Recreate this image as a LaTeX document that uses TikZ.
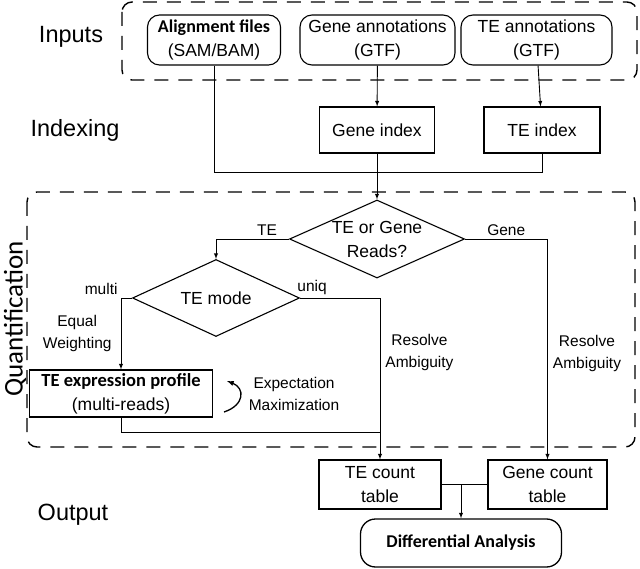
\documentclass[tikz,border=0pt]{standalone}
\usepackage{fontspec}
\setmainfont{Liberation Sans}
\newfontfamily\boldfont{Carlito}
\usetikzlibrary{shapes.geometric}

\begin{document}
\begin{tikzpicture}[x=1pt,y=-1pt,>=latex,line width=0.9pt,
	group/.style={draw,dash pattern=on 14pt off 10pt,line width=1.4pt,rounded corners=10pt},
	inbox/.style={draw,line width=1.1pt,rounded corners=12pt,align=center,minimum height=50pt,inner sep=2pt,font=\fontsize{17.5}{24}\selectfont},
	sqbox/.style={draw,line width=1.1pt,align=center,inner sep=2pt,font=\fontsize{17.5}{24}\selectfont},
	choice/.style={draw,diamond,aspect=2.2,line width=1.1pt,align=center,inner sep=0pt,font=\fontsize{17.5}{24}\selectfont},
	lbl/.style={align=center,inner sep=3pt,font=\fontsize{15.5}{22}\selectfont},
	head/.style={font=\fontsize{23.5}{28}\selectfont}]
	\useasboundingbox (0,0) rectangle (640,569);

	% groups
	\draw[group] (122,2) rectangle (637,80);
	\draw[group] (27,192) rectangle (635,447);
	\node[head] (inputs) at (71,37) {Inputs};
	\node[head] (indexing) at (75,130) {Indexing};
	\node[head] (output) at (73,515) {Output};
	\node[rotate=90,inner sep=0pt,font=\boldfont\fontsize{27}{30}\selectfont] (quant) at (15,319) {Quantification};

	% inputs and indexes
	\node[inbox,minimum width=133pt] (align) at (214,40) {{\boldfont\bfseries\fontsize{18}{24}\selectfont Alignment files}\\(SAM/BAM)};
	\node[inbox,minimum width=155pt] (geneann) at (377.5,40) {Gene annotations\\(GTF)};
	\node[inbox,minimum width=151pt] (teann) at (536.5,40) {TE annotations\\(GTF)};
	\node[sqbox,minimum width=115pt,minimum height=46pt] (geneidx) at (377,130) {Gene index};
	\node[sqbox,minimum width=116pt,minimum height=46pt] (teidx) at (542,130) {TE index};
	\coordinate (join) at (377,172);

	\draw[->] (geneann) -- (geneidx);
	\draw[->] (teann) -- (teidx);
	\draw (align.south) |- (join);
	\draw (teidx.south) |- (join);

	% quantification
	\node[choice,minimum width=175pt,minimum height=78pt] (reads) at (377,239) {TE or Gene\\Reads?};
	\node[choice,minimum width=167pt,minimum height=77pt] (temode) at (216,298) {TE mode};
	\node[sqbox,minimum width=183pt,minimum height=47pt] (teexpr) at (121,393.5) {{\boldfont\bfseries\fontsize{18.5}{24}\selectfont TE expression profile}\\(multi-reads)};
	\node[lbl] (em) at (294,394) {Expectation\\Maximization};
	\draw[->,line width=1.3pt] (224,412) .. controls (245,405) and (245,388) .. (227,381);

	% output
	\node[sqbox,minimum width=122pt,minimum height=49pt] (tecount) at (380,484.5) {TE count\\table};
	\node[sqbox,minimum width=119pt,minimum height=49pt] (genecount) at (547.5,484.5) {Gene count\\table};
	\node[inbox,minimum width=201pt,minimum height=48pt,rounded corners=15pt,line width=1.3pt] (diff) at (461,543) {{\boldfont\bfseries\fontsize{18}{24}\selectfont Differential Analysis}};
	\coordinate (mid) at (461,484.5);
	\coordinate (merge) at (380,432);

	\draw[->] (geneidx.south) -- (reads.north);
	\draw[->] (reads.west) -| node[lbl,above,pos=0.15]{TE} (temode.north);
	\draw[->] (reads.east) -| node[lbl,above,pos=0.25]{Gene}
		node[lbl,right,pos=0.76,xshift=2pt]{Resolve\\Ambiguity} (genecount.north);
	\draw[->] (temode.west) -| node[lbl,anchor=south east,pos=0.5]{multi}
		node[lbl,left,pos=0.75,xshift=-6pt]{Equal\\Weighting} (teexpr.north);
	\draw[->] (temode.east) -| node[lbl,above,pos=0.075]{uniq}
		node[lbl,right,pos=0.67,xshift=2pt]{Resolve\\Ambiguity} (tecount.north);
	\draw (teexpr.south) |- (merge);
	\draw (tecount.east) -- (genecount.west);
	\draw[->] (mid) -- (diff.north);
\end{tikzpicture}
\end{document}
